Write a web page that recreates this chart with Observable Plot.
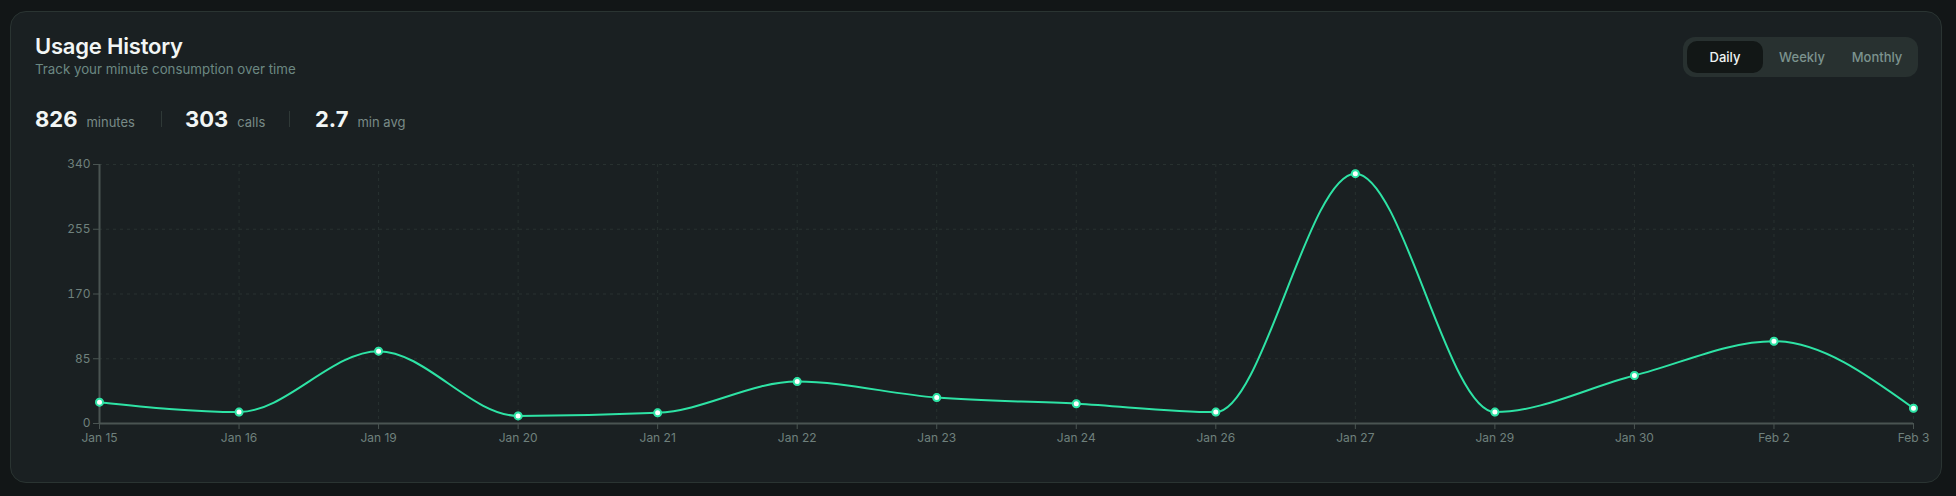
<!DOCTYPE html>
<html>
<head>
<meta charset="utf-8">
<script src="https://cdn.jsdelivr.net/npm/d3@7"></script>
<script src="https://cdn.jsdelivr.net/npm/@observablehq/plot@0.6"></script>
<style>
  html, body { margin: 0; padding: 0; width: 1956px; height: 496px; background: #121617; overflow: hidden; font-family: "Inter", "Noto Sans", sans-serif; }
  .card { position: absolute; left: 10px; top: 11px; width: 1930px; height: 470px; background: #1a2022; border: 1px solid #2a3432; border-radius: 16px; }
  .title { position: absolute; left: 35px; top: 33px; font-size: 22px; font-weight: 600; color: #f2f6f5; letter-spacing: -0.2px; }
  .subtitle { position: absolute; left: 35px; top: 61px; font-size: 13.3px; color: #6c8882; }
  .stat { position: absolute; top: 106px; display: flex; align-items: baseline; white-space: nowrap; }
  .stat b { font-size: 22px; font-weight: 700; color: #f2f6f5; }
  .stat span { font-size: 13px; color: #788a87; margin-left: 9px; }
  .sep { position: absolute; top: 111px; width: 1px; height: 16px; background: #2f3937; }
  .toggle { position: absolute; left: 1683px; top: 37px; width: 235px; height: 40px; background: #283130; border-radius: 12px; }
  .btn { position: absolute; top: 4px; height: 32px; line-height: 32px; font-size: 13px; color: #7c938e; text-align: center; font-weight: 500; }
  .btn.active { background: #121716; color: #eef3f2; border-radius: 10px; }
  #chart { position: absolute; left: 0; top: 150px; }
</style>
</head>
<body>
<div class="card"></div>
<div class="title">Usage History</div>
<div class="subtitle">Track your minute consumption over time</div>
<div id="stats"></div>
<div class="toggle">
  <div class="btn active" style="left:4px;width:76px;">Daily</div>
  <div class="btn" style="left:82px;width:74px;">Weekly</div>
  <div class="btn" style="left:157px;width:74px;">Monthly</div>
</div>
<div id="chart"></div>
<script>
// Data
const dates = ["Jan 15","Jan 16","Jan 19","Jan 20","Jan 21","Jan 22","Jan 23","Jan 24","Jan 26","Jan 27","Jan 29","Jan 30","Feb 2","Feb 3"];
const minutes = [28, 15, 95, 10, 14, 55, 34, 26, 15, 328, 15, 63, 108, 20];
const yTicks = [0, 85, 170, 255, 340];
const statValues = ["826", "303", "2.7"];
const statLabels = ["minutes", "calls", "min avg"];

// Stats row
const statsEl = document.getElementById("stats");
const statX = [35, 185, 315];
const sepX = [161, 289];
statValues.forEach((v, i) => {
  const d = document.createElement("div");
  d.className = "stat";
  d.style.left = statX[i] + "px";
  d.innerHTML = `<b>${v}</b><span>${statLabels[i]}</span>`;
  statsEl.appendChild(d);
});
sepX.forEach(x => {
  const s = document.createElement("div");
  s.className = "sep";
  s.style.left = x + "px";
  statsEl.appendChild(s);
});

const data = dates.map((d, i) => ({date: d, minutes: minutes[i]}));
const green = "#2ee3a5";
const gridColor = "#283130";
const axisColor = "#4a5452";
const textColor = "#6f807d";

const chart = Plot.plot({
  width: 1956,
  height: 310,
  marginLeft: 99,
  marginRight: 43,
  marginTop: 14,
  marginBottom: 37,
  style: {background: "transparent", fontFamily: "Inter, 'Noto Sans', sans-serif", fontSize: "12px", overflow: "visible"},
  x: {type: "point", domain: dates, padding: 0, round: false},
  y: {domain: [0, 340]},
  marks: [
    Plot.gridY(yTicks, {stroke: gridColor, strokeOpacity: 1, strokeDasharray: "3,4"}),
    Plot.gridX(dates, {stroke: gridColor, strokeOpacity: 1, strokeDasharray: "3,4"}),
    Plot.ruleX([dates[0]], {stroke: axisColor, strokeWidth: 2}),
    Plot.ruleY([0], {stroke: axisColor, strokeWidth: 2}),
    Plot.axisY(yTicks, {tickSize: 6, tickPadding: 3, stroke: axisColor, fill: textColor, label: null, tickFormat: d => String(d)}),
    Plot.axisX(dates, {tickSize: 6, tickPadding: 4, stroke: axisColor, fill: textColor, label: null}),
    Plot.line(data, {x: "date", y: "minutes", curve: "monotone-x", stroke: green, strokeWidth: 2}),
    Plot.dot(data, {x: "date", y: "minutes", r: 4.5, fill: green, fillOpacity: 0.35, stroke: "none"}),
    Plot.dot(data, {x: "date", y: "minutes", r: 3.5, fill: "#ffffff", stroke: green, strokeWidth: 2})
  ]
});
document.getElementById("chart").appendChild(chart);
</script>
</body>
</html>
